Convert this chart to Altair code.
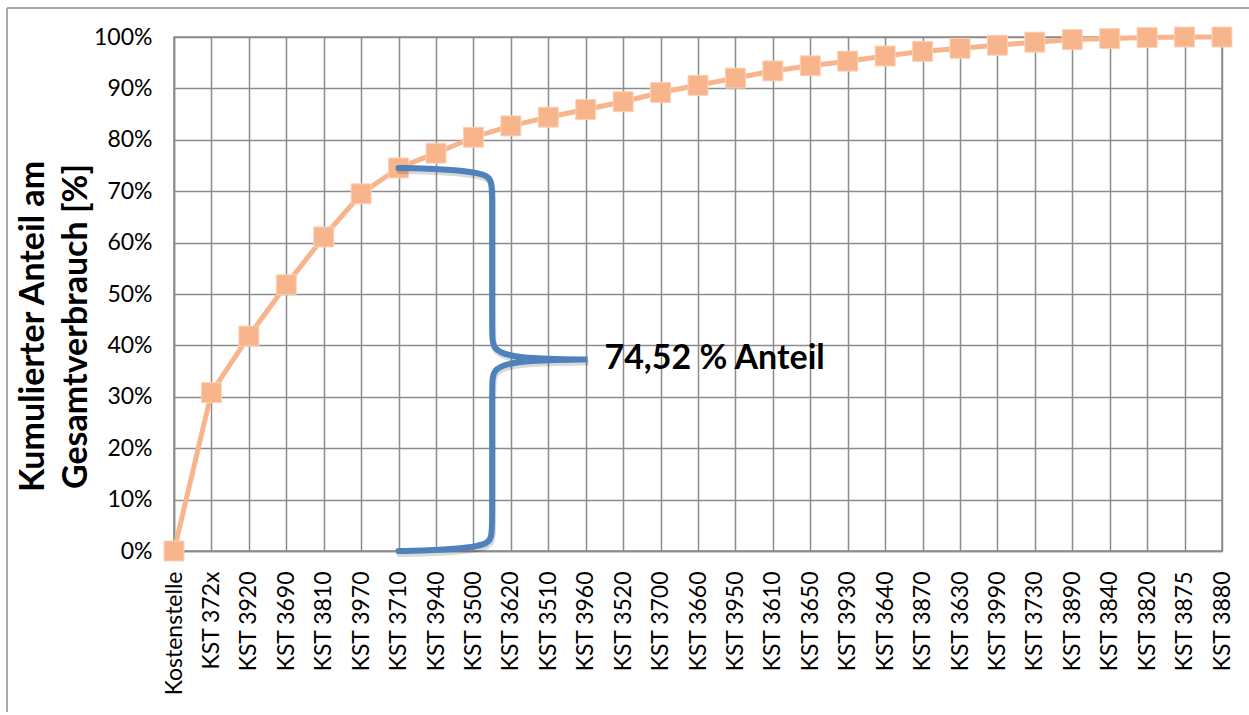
import json
import altair as alt
import pandas as pd

# Cost centres in Pareto order and their cumulative share of total consumption (%)
categories = ["Kostenstelle", "KST 372x", "KST 3920", "KST 3690", "KST 3810", "KST 3970",
              "KST 3710", "KST 3940", "KST 3500", "KST 3620", "KST 3510", "KST 3960",
              "KST 3520", "KST 3700", "KST 3660", "KST 3950", "KST 3610", "KST 3650",
              "KST 3930", "KST 3640", "KST 3870", "KST 3630", "KST 3990", "KST 3730",
              "KST 3890", "KST 3840", "KST 3820", "KST 3875", "KST 3880"]
cumulative_pct = [0.0, 30.8, 41.8, 51.8, 61.1, 69.5, 74.52, 77.4, 80.5, 82.7, 84.4, 85.9,
                  87.4, 89.2, 90.6, 92.0, 93.4, 94.4, 95.3, 96.3, 97.2, 97.8, 98.4, 99.0,
                  99.5, 99.7, 99.9, 100.0, 100.0]
y_ticks = list(range(0, 101, 10))
highlight = "KST 3710"

FONT = "Lato"
GRID = "#8c8c8c"
ORANGE = "#F8B48B"
BLUE = "#4F81BD"

W, H = 1048, 514
PAD_L, PAD_T = 174, 37

df = pd.DataFrame({"idx": list(range(len(categories))),
                   "name": categories,
                   "pct": cumulative_pct})

# Curly brace spanning 0 .. share of the highlighted cost centre
hi = categories.index(highlight)
top = cumulative_pct[hi]
mid = top / 2
stem = hi + 2.5
tip = hi + 5.05
brace_pts = [
    (hi, top), (hi + 1.0, top - 0.1), (stem, top - 1.0), (stem, top - 3.6),
    (stem, mid + 5.0), (stem, mid + 2.0), (stem + 0.5, mid + 0.5), (stem + 1.5, mid + 0.1),
    (tip, mid), (tip, mid), (tip, mid),
    (stem + 1.5, mid - 0.1), (stem + 0.5, mid - 0.5), (stem, mid - 2.0), (stem, mid - 5.0),
    (stem, 3.6), (stem, 1.0), (hi + 1.0, 0.1), (hi, 0.0),
]
brace = pd.DataFrame({"i": list(range(len(brace_pts))),
                      "bx": [p[0] for p in brace_pts],
                      "by": [p[1] for p in brace_pts]})

label_text = f"{top:.2f}".replace(".", ",") + " % Anteil"
note = pd.DataFrame({"tx": [tip + 0.45], "ty": [mid], "t": [label_text]})

x_scale = alt.Scale(domain=[0, len(categories) - 1], nice=False, zero=False)
y_scale = alt.Scale(domain=[0, 100], nice=False)

x_axis = alt.Axis(
    values=list(range(len(categories))),
    labelExpr=json.dumps(categories) + "[datum.value]",
    labelAngle=270, labelAlign="right", labelBaseline="middle",
    labelFont=FONT, labelFontSize=23, labelColor="#000000", labelPadding=20,
    labelOverlap=False, labelBound=False, labelFlush=False,
    grid=True, gridColor=GRID, gridWidth=1.5,
    domainColor=GRID, domainWidth=1.5, ticks=False, title=None,
)
y_axis = alt.Axis(
    values=y_ticks, labelExpr="datum.value + '%'",
    labelFont=FONT, labelFontSize=23, labelColor="#000000", labelPadding=22,
    labelOverlap=False,
    grid=True, gridColor=GRID, gridWidth=1.5,
    domainColor=GRID, domainWidth=1.5, ticks=False,
    title=["Kumulierter Anteil am", "Gesamtverbrauch [%]"],
    titleFont=FONT, titleFontSize=34, titleFontWeight="bold", titleColor="#000000",
    titleLineHeight=43, titlePadding=0, titleY=289,
)


def xy(xf, yf):
    return dict(x=alt.X(xf, scale=x_scale, axis=x_axis),
                y=alt.Y(yf, scale=y_scale, axis=y_axis))


base = alt.Chart(df)

line = base.mark_line(color=ORANGE, strokeWidth=5).encode(**xy("idx:Q", "pct:Q"))
points = base.mark_square(color=ORANGE, size=400, opacity=1,
                          stroke="#FCD3BA", strokeWidth=1).encode(**xy("idx:Q", "pct:Q"))

brace_shadow = alt.Chart(brace).mark_line(
    color="#000000", opacity=0.15, strokeWidth=6, interpolate="basis",
    strokeCap="round", xOffset=1, yOffset=3,
).encode(order="i:Q", **xy("bx:Q", "by:Q"))
brace_line = alt.Chart(brace).mark_line(
    color=BLUE, strokeWidth=6, interpolate="basis", strokeCap="round",
).encode(order="i:Q", **xy("bx:Q", "by:Q"))

note_text = alt.Chart(note).mark_text(
    align="left", baseline="middle", font=FONT, fontSize=34, fontWeight="bold",
    color="#000000",
).encode(text="t:N", **xy("tx:Q", "ty:Q"))

# Outer chart frame (left and top edges)
frame_left = alt.Chart(df.head(1)).mark_rule(color=GRID, strokeWidth=1.5).encode(
    x=alt.value(7 - PAD_L), y=alt.value(8 - PAD_T), y2=alt.value(712 - PAD_T))
frame_top = alt.Chart(df.head(1)).mark_rule(color=GRID, strokeWidth=1.5).encode(
    x=alt.value(7 - PAD_L), x2=alt.value(1260 - PAD_L), y=alt.value(8 - PAD_T))

chart = alt.layer(
    line, points, brace_shadow, brace_line, note_text, frame_left, frame_top
).properties(
    width=W, height=H,
    autosize=alt.AutoSizeParams(type="none"),
    padding={"left": PAD_L, "top": PAD_T, "right": 1249 - PAD_L - W, "bottom": 715 - PAD_T - H},
    background="#ffffff",
).configure_view(stroke=GRID, strokeWidth=1.5)

chart.save("out.html", embed_options={"renderer": "svg", "actions": False})
